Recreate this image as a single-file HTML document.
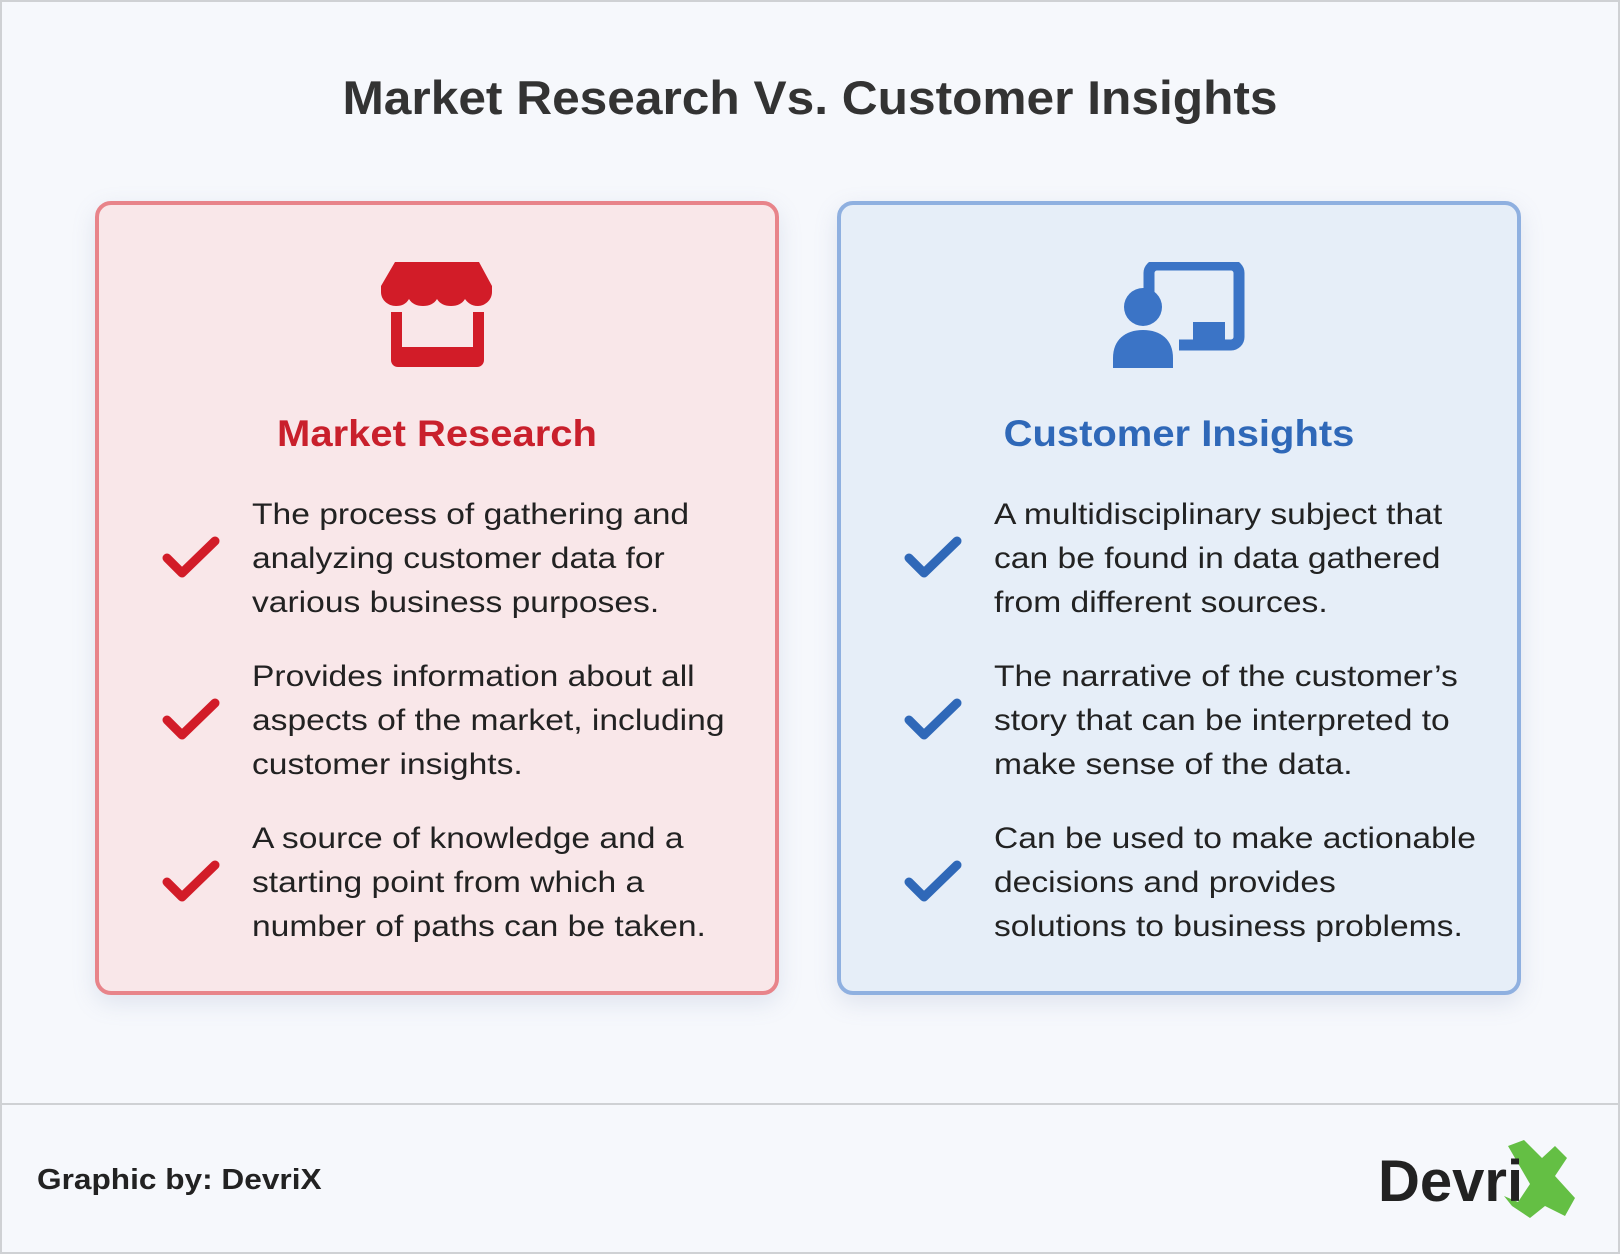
<!DOCTYPE html>
<html><head><meta charset="utf-8"><style>
*{margin:0;padding:0;box-sizing:border-box}
body{width:1620px;height:1254px;background:#f6f8fc;font-family:"Liberation Sans",Arial,sans-serif;position:relative;overflow:hidden}
.frame{position:absolute;left:0;top:0;width:1620px;height:1254px;border:2px solid #cfd1d4}
.title{position:absolute;left:0;width:1620px;top:70px;text-align:center;font-size:47px;font-weight:bold;color:#333;transform:scaleX(1.056)}
.card{position:absolute;top:201px;height:794px;border-radius:16px;border:4px solid;box-shadow:0 8px 24px rgba(120,140,180,.18)}
.c1{left:95px;width:684px;background:#f9e7e9;border-color:#e8848a}
.c2{left:837px;width:684px;background:#e6eef8;border-color:#8fb0e0}
.h{position:absolute;top:413px;font-size:37px;font-weight:bold;text-align:center;width:684px;transform:scaleX(1.08)}
.item{position:absolute;font-size:30px;line-height:44px;color:#222;white-space:nowrap;transform:scaleX(1.12);transform-origin:0 0}
.chk{position:absolute;width:58px;height:42px}
.foot{position:absolute;left:0;top:1103px;width:1620px;height:2px;background:#cfd1d4}
</style></head><body>
<div class="frame"></div>
<div class="title">Market Research Vs. Customer Insights</div>
<div class="card c1"></div>
<div class="card c2"></div>

<svg style="position:absolute;left:381px;top:262px" width="112" height="106" viewBox="0 0 112 106">
<path d="M14 0H98L111 24V30C111 38 104 44 97 44C90 44 86 40 84 37C81 42 76 44 70 44C64 44 59 42 56 37C53 42 48 44 42 44C36 44 31 42 28 37C25 42 21 44 15 44C7 44 0 38 0 30V24Z" fill="#d21c28"/>
<path d="M10 50H21V85H92V50H103V98C103 102 100 105 96 105H17C13 105 10 102 10 98Z" fill="#d21c28"/>
</svg>
<svg style="position:absolute;left:1113px;top:262px" width="132" height="106" viewBox="0 0 132 106">
<rect x="36" y="3" width="90" height="80" rx="8" fill="none" stroke="#3b74c6" stroke-width="11"/>
<rect x="80" y="60" width="32" height="22" fill="#3b74c6"/>
<rect x="30" y="30" width="36" height="76" fill="#e6eef8"/>
<circle cx="30" cy="45" r="19" fill="#3b74c6"/>
<path d="M0 96C0 78 12 68 30 68C48 68 60 78 60 96V106H0Z" fill="#3b74c6"/>
</svg>

<div class="h" style="left:95px;color:#c9202c">Market Research</div>
<div class="h" style="left:837px;color:#2f68b8">Customer Insights</div>

<svg class="chk" style="left:162px;top:536px" viewBox="0 0 58 42"><path d="M5 22L20 37L53 5" fill="none" stroke="#d21c28" stroke-width="9" stroke-linecap="round" stroke-linejoin="round"/></svg>
<svg class="chk" style="left:162px;top:698px" viewBox="0 0 58 42"><path d="M5 22L20 37L53 5" fill="none" stroke="#d21c28" stroke-width="9" stroke-linecap="round" stroke-linejoin="round"/></svg>
<svg class="chk" style="left:162px;top:860px" viewBox="0 0 58 42"><path d="M5 22L20 37L53 5" fill="none" stroke="#d21c28" stroke-width="9" stroke-linecap="round" stroke-linejoin="round"/></svg>
<svg class="chk" style="left:904px;top:536px" viewBox="0 0 58 42"><path d="M5 22L20 37L53 5" fill="none" stroke="#2f68b8" stroke-width="9" stroke-linecap="round" stroke-linejoin="round"/></svg>
<svg class="chk" style="left:904px;top:698px" viewBox="0 0 58 42"><path d="M5 22L20 37L53 5" fill="none" stroke="#2f68b8" stroke-width="9" stroke-linecap="round" stroke-linejoin="round"/></svg>
<svg class="chk" style="left:904px;top:860px" viewBox="0 0 58 42"><path d="M5 22L20 37L53 5" fill="none" stroke="#2f68b8" stroke-width="9" stroke-linecap="round" stroke-linejoin="round"/></svg>

<div class="item" style="left:252px;top:493px">The process of gathering and<br>analyzing customer data for<br>various business purposes.</div>
<div class="item" style="left:252px;top:655px">Provides information about all<br>aspects of the market, including<br>customer insights.</div>
<div class="item" style="left:252px;top:817px">A source of knowledge and a<br>starting point from which a<br>number of paths can be taken.</div>
<div class="item" style="left:994px;top:493px">A multidisciplinary subject that<br>can be found in data gathered<br>from different sources.</div>
<div class="item" style="left:994px;top:655px">The narrative of the customer’s<br>story that can be interpreted to<br>make sense of the data.</div>
<div class="item" style="left:994px;top:817px">Can be used to make actionable<br>decisions and provides<br>solutions to business problems.</div>

<div class="foot"></div>
<div style="position:absolute;left:37px;top:1164px;font-size:29px;font-weight:bold;color:#222;transform:scaleX(1.09);transform-origin:0 0">Graphic by: DevriX</div>
<svg style="position:absolute;left:1500px;top:1138px" width="85" height="80" viewBox="0 0 85 80">
<polygon points="8,8 24,2 42,20 55,8 67,20 55,38 75,60 65,78 45,68 30,80 12,68 4,58 18,64 30,46" fill="#64bf44"/>
</svg>
<div style="position:absolute;left:1378px;top:1148px;font-size:58px;font-weight:bold;color:#222">Devri</div>
</body></html>
